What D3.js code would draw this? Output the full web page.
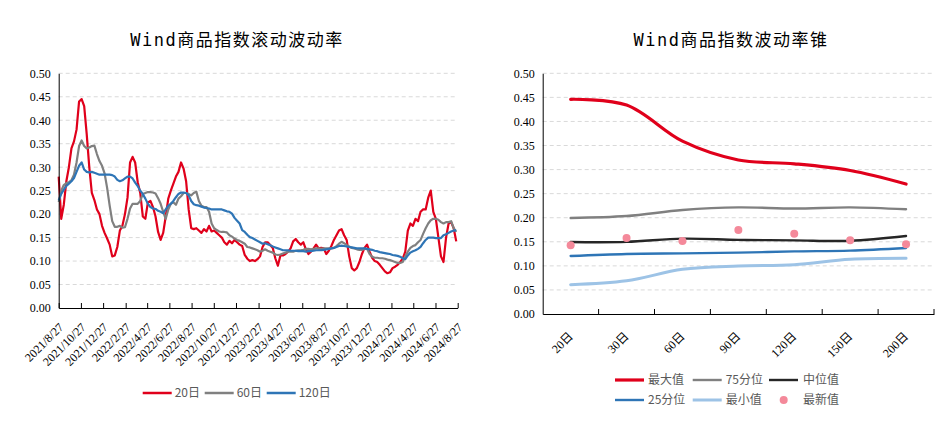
<!DOCTYPE html>
<html>
<head>
<meta charset="utf-8">
<script src="https://cdn.jsdelivr.net/npm/d3@7"></script>
<style>
  body { margin: 0; background: #fff; }
  .grid line { stroke: #d9d9d9; stroke-dasharray: 4,3; }
  .title { font-family: "DejaVu Sans Mono", "Noto Sans CJK SC", monospace; font-size: 17px; letter-spacing: 1.5px; fill: #000; }
  .legend text { font-family: "Noto Sans CJK SC", sans-serif; font-size: 12px; fill: #595959; }
</style>
</head>
<body>
<svg id="chart" width="952" height="430"></svg>
<script>
// ---- left chart: rolling volatility, sampled weekly from 2021/8/27 ----
var startDate = new Date(2021, 7, 27);
var dates = d3.timeDay.range(startDate, new Date(2024, 7, 24), 7);

var vol20 = [0.28,0.19,0.22,0.27,0.30,0.34,0.355,0.38,0.44,0.445,0.43,0.37,0.30,0.245,0.23,0.21,0.20,0.175,0.16,0.148,
  0.135,0.11,0.112,0.13,0.165,0.175,0.20,0.235,0.31,0.322,0.31,0.268,0.245,0.195,0.19,0.225,0.228,0.215,0.195,0.162,
  0.145,0.16,0.195,0.233,0.25,0.265,0.28,0.29,0.31,0.297,0.27,0.21,0.17,0.168,0.17,0.165,0.16,0.168,0.163,0.175,
  0.163,0.165,0.16,0.155,0.15,0.14,0.135,0.143,0.138,0.145,0.14,0.135,0.132,0.113,0.105,0.10,0.102,0.10,0.104,0.11,
  0.13,0.14,0.14,0.134,0.128,0.106,0.09,0.112,0.112,0.115,0.12,0.127,0.142,0.147,0.14,0.135,0.14,0.125,0.115,0.12,
  0.127,0.135,0.127,0.128,0.127,0.115,0.122,0.132,0.145,0.155,0.165,0.168,0.155,0.145,0.11,0.085,0.08,0.085,0.098,0.115,
  0.128,0.135,0.12,0.107,0.10,0.098,0.092,0.085,0.078,0.074,0.076,0.085,0.088,0.092,0.098,0.105,0.12,0.165,0.18,0.175,
  0.19,0.185,0.205,0.21,0.21,0.235,0.25,0.205,0.19,0.15,0.11,0.098,0.15,0.18,0.183,0.17,0.142];

var vol60 = [0.226,0.25,0.262,0.266,0.268,0.272,0.284,0.31,0.345,0.357,0.345,0.34,0.342,0.345,0.346,0.328,0.313,0.303,0.287,0.256,
  0.218,0.185,0.173,0.173,0.175,0.171,0.172,0.19,0.212,0.222,0.222,0.222,0.228,0.243,0.245,0.247,0.247,0.246,0.244,0.234,
  0.222,0.205,0.19,0.21,0.222,0.225,0.22,0.233,0.238,0.245,0.245,0.243,0.24,0.245,0.248,0.228,0.218,0.215,0.215,0.205,
  0.18,0.17,0.166,0.163,0.162,0.162,0.161,0.155,0.152,0.148,0.145,0.143,0.14,0.137,0.13,0.129,0.127,0.125,0.123,0.12,
  0.122,0.125,0.122,0.12,0.118,0.114,0.113,0.114,0.116,0.118,0.12,0.12,0.12,0.122,0.123,0.123,0.124,0.126,0.126,0.125,
  0.126,0.127,0.127,0.126,0.127,0.127,0.127,0.127,0.128,0.132,0.137,0.141,0.138,0.134,0.131,0.128,0.127,0.125,0.124,0.124,
  0.126,0.126,0.115,0.109,0.107,0.107,0.106,0.106,0.105,0.103,0.102,0.10,0.098,0.096,0.096,0.098,0.11,0.12,0.128,0.132,
  0.134,0.14,0.145,0.158,0.17,0.18,0.187,0.19,0.19,0.188,0.183,0.18,0.183,0.183,0.185,0.17,0.162];

var vol120 = [0.229,0.243,0.252,0.26,0.265,0.27,0.277,0.29,0.303,0.31,0.295,0.29,0.289,0.29,0.288,0.286,0.284,0.284,0.284,0.284,
  0.284,0.283,0.28,0.273,0.27,0.272,0.276,0.28,0.28,0.276,0.267,0.26,0.25,0.243,0.233,0.222,0.215,0.212,0.211,0.207,
  0.205,0.202,0.21,0.218,0.222,0.228,0.236,0.243,0.246,0.246,0.245,0.24,0.228,0.221,0.219,0.218,0.216,0.214,0.213,0.212,
  0.21,0.21,0.21,0.21,0.21,0.208,0.206,0.205,0.201,0.192,0.186,0.18,0.166,0.162,0.156,0.151,0.149,0.146,0.143,0.14,
  0.137,0.138,0.136,0.134,0.131,0.129,0.127,0.125,0.123,0.123,0.123,0.122,0.122,0.122,0.121,0.121,0.121,0.12,0.121,0.121,
  0.122,0.123,0.123,0.123,0.124,0.125,0.126,0.127,0.128,0.13,0.132,0.133,0.132,0.131,0.13,0.129,0.128,0.127,0.127,0.127,
  0.127,0.126,0.125,0.124,0.122,0.121,0.119,0.118,0.117,0.116,0.115,0.113,0.112,0.111,0.109,0.106,0.104,0.112,0.118,0.121,
  0.123,0.126,0.13,0.138,0.145,0.15,0.15,0.15,0.149,0.149,0.149,0.155,0.157,0.16,0.163,0.165,0.166];

var dateTicks = ["2021/8/27","2021/10/27","2021/12/27","2022/2/27","2022/4/27","2022/6/27","2022/8/27",
  "2022/10/27","2022/12/27","2023/2/27","2023/4/27","2023/6/27","2023/8/27","2023/10/27","2023/12/27",
  "2024/2/27","2024/4/27","2024/6/27","2024/8/27"];

// ---- right chart: volatility cone ----
var windows = ["20日","30日","60日","90日","120日","150日","200日"];
var coneMax = [0.446,0.434,0.359,0.320,0.312,0.298,0.270];
var cone75 = [0.1995,0.2035,0.216,0.2215,0.219,0.2215,0.2175];
var coneMed = [0.1495,0.1498,0.1565,0.154,0.153,0.152,0.162];
var cone25 = [0.1205,0.1247,0.126,0.1274,0.130,0.1316,0.137];
var coneMin = [0.061,0.069,0.0928,0.0997,0.1025,0.1136,0.1157];
var coneLast = [0.1427,0.158,0.1517,0.1745,0.1669,0.153,0.1447];

var yTicks = d3.range(0, 0.501, 0.05);
var serif = '"Liberation Serif", "Noto Sans CJK SC", serif';

var svg = d3.select("#chart");
svg.append("rect").attr("width", 952).attr("height", 430).attr("fill", "#fff");

function styleAxis(g) {
  g.attr("font-family", serif).attr("font-size", 12);
  g.selectAll("text").attr("fill", "#000");
  g.select(".domain").attr("stroke", "#000");
}

// ================= left =================
var parseTick = d3.timeParse("%Y/%m/%d");
var xL = d3.scaleTime()
  .domain([parseTick(dateTicks[0]), parseTick(dateTicks[dateTicks.length - 1])])
  .range([58.7, 457.7]);
var yL = d3.scaleLinear().domain([0, 0.5]).range([308, 73.3]);

svg.append("g").attr("class", "grid")
  .selectAll("line").data(yTicks.slice(1)).enter().append("line")
  .attr("x1", 58.7).attr("x2", 457.7)
  .attr("y1", function(d) { return yL(d); })
  .attr("y2", function(d) { return yL(d); });

var seriesL = [
  {name: "20日", values: vol20, color: "#e0001b"},
  {name: "60日", values: vol60, color: "#808080"},
  {name: "120日", values: vol120, color: "#2e75b6"}
];

var lineL = d3.line()
  .x(function(d) { return xL(d[0]); })
  .y(function(d) { return yL(d[1]); });

seriesL.forEach(function(s) {
  var pts = dates.slice(0, s.values.length).map(function(d, i) { return [d, s.values[i]]; });
  svg.append("path")
    .attr("d", lineL(pts))
    .attr("fill", "none")
    .attr("stroke", s.color)
    .attr("stroke-width", 2.2)
    .attr("stroke-linejoin", "round");
});

svg.append("g")
  .attr("transform", "translate(58.7,0)")
  .call(d3.axisLeft(yL).tickValues(yTicks).tickFormat(d3.format(".2f")).tickSize(0).tickPadding(8))
  .call(styleAxis);

var xAxisL = svg.append("g")
  .attr("transform", "translate(0,308)")
  .call(d3.axisBottom(xL)
    .tickValues(dateTicks.map(parseTick))
    .tickFormat(d3.timeFormat("%Y/%-m/%-d"))
    .tickSizeInner(-5).tickSizeOuter(0))
  .call(styleAxis);
xAxisL.selectAll("text")
  .attr("x", 0).attr("y", 0).attr("dy", "0.35em")
  .style("text-anchor", "end")
  .attr("transform", "translate(2,17) rotate(-45)");

svg.append("text").attr("class", "title")
  .attr("x", 237).attr("y", 46).attr("text-anchor", "middle")
  .text("Wind商品指数滚动波动率");

var legL = svg.append("g").attr("class", "legend");
var legLx = [142.7, 204.7, 266.7];
seriesL.forEach(function(s, i) {
  legL.append("line")
    .attr("x1", legLx[i]).attr("x2", legLx[i] + 29)
    .attr("y1", 393).attr("y2", 393)
    .attr("stroke", s.color).attr("stroke-width", 2.5);
  legL.append("text")
    .attr("x", legLx[i] + 32).attr("y", 393).attr("dy", "0.35em")
    .text(s.name);
});

// ================= right =================
var xR = d3.scaleBand().domain(windows).range([542.7, 934]);
var yR = d3.scaleLinear().domain([0, 0.5]).range([314, 73.3]);

svg.append("g").attr("class", "grid")
  .selectAll("line").data(yTicks.slice(1)).enter().append("line")
  .attr("x1", 542.7).attr("x2", 934)
  .attr("y1", function(d) { return yR(d); })
  .attr("y2", function(d) { return yR(d); });

var seriesR = [
  {name: "最大值", values: coneMax, color: "#e0001b", width: 3.2},
  {name: "75分位", values: cone75, color: "#808080", width: 2.4},
  {name: "中位值", values: coneMed, color: "#262626", width: 2.4},
  {name: "25分位", values: cone25, color: "#2e75b6", width: 2.4},
  {name: "最小值", values: coneMin, color: "#9dc3e6", width: 3}
];

var lineR = d3.line()
  .x(function(d, i) { return xR(windows[i]) + xR.bandwidth() / 2; })
  .y(function(d) { return yR(d); })
  .curve(d3.curveCatmullRom.alpha(0.5));

seriesR.forEach(function(s) {
  svg.append("path")
    .attr("d", lineR(s.values))
    .attr("fill", "none")
    .attr("stroke", s.color)
    .attr("stroke-width", s.width)
    .attr("stroke-linecap", "round");
});

svg.append("g").selectAll("circle")
  .data(coneLast).enter().append("circle")
  .attr("cx", function(d, i) { return xR(windows[i]) + xR.bandwidth() / 2; })
  .attr("cy", function(d) { return yR(d); })
  .attr("r", 4)
  .attr("fill", "#f4899a");

svg.append("g")
  .attr("transform", "translate(542.7,0)")
  .call(d3.axisLeft(yR).tickValues(yTicks).tickFormat(d3.format(".2f")).tickSize(0).tickPadding(8))
  .call(styleAxis);

var xAxisR = svg.append("g")
  .attr("transform", "translate(0,314)")
  .call(d3.axisBottom(xR).tickSize(0))
  .call(styleAxis);
xAxisR.selectAll("text")
  .attr("x", 0).attr("y", 0).attr("dy", "0.35em")
  .style("text-anchor", "end")
  .attr("transform", "translate(0,20) rotate(-45)");
// tick marks between categories
xAxisR.selectAll(".sep")
  .data(windows).enter().append("line")
  .attr("x1", function(d) { return xR(d) + xR.bandwidth(); })
  .attr("x2", function(d) { return xR(d) + xR.bandwidth(); })
  .attr("y1", 0).attr("y2", -5)
  .attr("stroke", "#000");

svg.append("text").attr("class", "title")
  .attr("x", 731).attr("y", 46).attr("text-anchor", "middle")
  .text("Wind商品指数波动率锥");

var legR = svg.append("g").attr("class", "legend");
var legRpos = [[615, 380], [692.7, 380], [769, 380], [615, 400], [692.7, 400]];
seriesR.forEach(function(s, i) {
  legR.append("line")
    .attr("x1", legRpos[i][0]).attr("x2", legRpos[i][0] + 29)
    .attr("y1", legRpos[i][1]).attr("y2", legRpos[i][1])
    .attr("stroke", s.color).attr("stroke-width", s.width);
  legR.append("text")
    .attr("x", legRpos[i][0] + (i == 2 ? 34 : 33)).attr("y", legRpos[i][1]).attr("dy", "0.35em")
    .text(s.name);
});
legR.append("circle").attr("cx", 783.7).attr("cy", 400).attr("r", 4).attr("fill", "#f4899a");
legR.append("text").attr("x", 803).attr("y", 400).attr("dy", "0.35em").text("最新值");
</script>
</body>
</html>
